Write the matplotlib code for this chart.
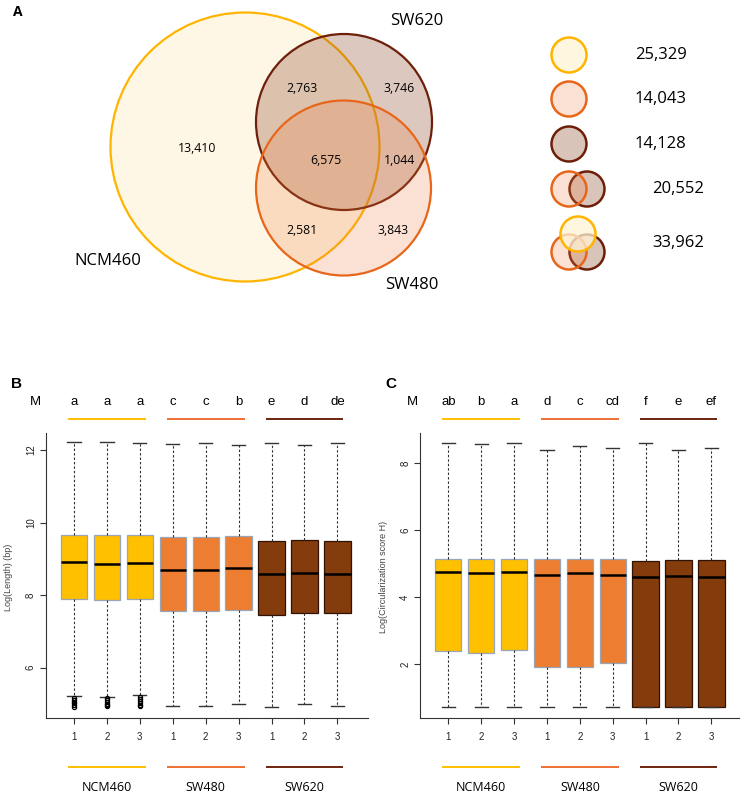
import numpy as np
import matplotlib.pyplot as plt
from matplotlib.patches import Circle
from matplotlib import transforms

plt.rcParams['font.family'] = ['Liberation Sans', 'DejaVu Sans']
label_font = ['Open Sans', 'DejaVu Sans']

# ---- data ----
groups = ['NCM460', 'SW480', 'SW620']
reps = ['1', '2', '3'] * 3
group_colors = ['#FFC000', '#ED7D31', '#843C0C']
line_colors = ['#FFC000', '#EE7033', '#6E2410']
box_edges = ['#9AA5B8', '#9AA5B8', '#2F1204']

venn_sets = ['NCM460', 'SW620', 'SW480']
venn_counts = ['13,410', '2,763', '3,746', '6,575', '1,044', '2,581', '3,843']
venn_totals = ['25,329', '14,043', '14,128', '20,552', '33,962']

# Log(Length) (bp)
len_whislo = [5.21, 5.20, 5.25, 4.95, 4.94, 4.99, 4.92, 5.00, 4.95]
len_q1 = [7.88, 7.87, 7.88, 7.55, 7.55, 7.58, 7.45, 7.51, 7.52]
len_med = [8.90, 8.87, 8.89, 8.70, 8.70, 8.75, 8.57, 8.61, 8.59]
len_q3 = [9.67, 9.65, 9.65, 9.61, 9.61, 9.62, 9.50, 9.51, 9.49]
len_whishi = [12.21, 12.21, 12.20, 12.17, 12.19, 12.14, 12.19, 12.15, 12.19]
len_fliers = [[5.16, 5.11, 5.06, 5.01, 4.96, 4.92], [5.15, 5.10, 5.05, 5.00, 4.96, 4.93],
              [5.20, 5.14, 5.08, 5.02, 4.97, 4.93], [], [], [], [], [], []]
len_letters = ['a', 'a', 'a', 'c', 'c', 'b', 'e', 'd', 'de']

# Log(Circularization score H)
circ_whislo = [0.71, 0.71, 0.71, 0.71, 0.71, 0.71, 0.71, 0.71, 0.71]
circ_q1 = [2.39, 2.33, 2.43, 1.90, 1.91, 2.03, 0.71, 0.71, 0.71]
circ_med = [4.74, 4.72, 4.76, 4.67, 4.72, 4.67, 4.61, 4.63, 4.61]
circ_q3 = [5.15, 5.13, 5.15, 5.13, 5.15, 5.15, 5.09, 5.12, 5.12]
circ_whishi = [8.62, 8.58, 8.60, 8.40, 8.52, 8.45, 8.62, 8.40, 8.45]
circ_letters = ['ab', 'b', 'a', 'd', 'c', 'cd', 'f', 'e', 'ef']

fig = plt.figure(figsize=(7.43, 7.94), dpi=100)

# overlay in pixel units for panel A and annotations
ov = fig.add_axes([0, 0, 1, 1])
ov.set_xlim(0, 743)
ov.set_ylim(794, 0)
ov.axis('off')

# ---- panel A: venn ----
fills = {'NCM460': ('#FFF7E6', 1.0), 'SW620': ('#8B4A2B', 0.30), 'SW480': ('#F07A3A', 0.22)}
edges = {'NCM460': '#FFB400', 'SW620': '#6E1F0A', 'SW480': '#E8661A'}
venn_xy = {'NCM460': (245, 147, 134.5), 'SW620': (344, 122, 88), 'SW480': (343.5, 188, 87.5)}
for s in venn_sets:
    x, y, r = venn_xy[s]
    fc, a = fills[s]
    ov.add_patch(Circle((x, y), r, facecolor=fc, alpha=a, edgecolor='none'))
    ov.add_patch(Circle((x, y), r, facecolor='none', edgecolor=edges[s], lw=1.6))

count_xy = [(197, 148), (302, 89), (399, 89), (326, 160), (399, 160), (302, 231), (393, 231)]
for (x, y), t in zip(count_xy, venn_counts):
    ov.text(x, y, t, ha='center', va='center', fontsize=8.8, family=label_font)

name_xy = {'NCM460': (108, 261), 'SW620': (417, 21), 'SW480': (412, 285)}
for s in venn_sets:
    ov.text(*name_xy[s], s, ha='center', va='center', fontsize=12, family=label_font)

# legend of totals
leg_rows = [[('NCM460', 569, 55)], [('SW480', 569, 99)], [('SW620', 569, 144)],
            [('SW620', 587, 189), ('SW480', 569, 189)],
            [('SW620', 587, 252), ('SW480', 569, 252), ('NCM460', 578, 234)]]
leg_fill = {'NCM460': ('#FFF3D6', 0.75), 'SW620': ('#8B4A2B', 0.32), 'SW480': ('#F07A3A', 0.22)}
for row in leg_rows:
    for s, x, y in row:
        fc, a = leg_fill[s]
        ov.add_patch(Circle((x, y), 17.5, facecolor=fc, alpha=a, edgecolor='none'))
        ov.add_patch(Circle((x, y), 17.5, facecolor='none', edgecolor=edges[s], lw=1.8))
tot_xy = [(635, 55), (635, 99), (635, 144), (652, 189), (652, 243)]
for (x, y), t in zip(tot_xy, venn_totals):
    ov.text(x, y, t, ha='left', va='center', fontsize=12, family=label_font)

ov.text(13, 12, 'A', ha='left', va='center', fontsize=10, fontweight='bold', family=label_font)


# ---- panels B, C ----
def boxpanel(rect, q1, med, q3, lo, hi, fliers, ylim, xlim, yticks, ylabel, letters, tag, mx):
    ax = fig.add_axes(rect)
    stats = []
    for i in range(9):
        stats.append(dict(q1=q1[i], med=med[i], q3=q3[i], whislo=lo[i], whishi=hi[i],
                          fliers=fliers[i]))
    res = ax.bxp(stats, positions=range(1, 10), widths=0.8, capwidths=0.4,
                 patch_artist=True, showfliers=True,
                 whiskerprops=dict(linestyle=(0, (2.2, 1.8)), color='#333333', lw=0.8),
                 capprops=dict(color='#333333', lw=1.0),
                 medianprops=dict(color='black', lw=1.8),
                 flierprops=dict(marker='o', markersize=3, mfc='none', mec='black', mew=0.9))
    for i, p in enumerate(res['boxes']):
        p.set_facecolor(group_colors[i // 3])
        p.set_edgecolor(box_edges[i // 3])
        p.set_linewidth(0.9)
    ax.set_xlim(*xlim)
    ax.set_ylim(*ylim)
    ax.set_yticks(yticks)
    ax.set_xticks(range(1, 10))
    ax.set_xticklabels(reps)
    ax.tick_params(axis='both', direction='out', length=4, width=0.8, color='#333333',
                   labelsize=7, labelcolor='#222222')
    ax.tick_params(axis='x', pad=6)
    ax.tick_params(axis='y', labelrotation=90, pad=3)
    for lab in ax.get_yticklabels():
        lab.set_va('center')
    for sp in ['top', 'right']:
        ax.spines[sp].set_visible(False)
    for sp in ['left', 'bottom']:
        ax.spines[sp].set_linewidth(0.8)
        ax.spines[sp].set_color('#333333')
    ax.set_facecolor('none')

    tr = transforms.blended_transform_factory(ax.transData, ov.transData)
    ov.text(mx, 405, 'M', transform=tr, ha='center', va='baseline', fontsize=9.5)
    for i, t in enumerate(letters):
        ov.text(i + 1, 405, t, transform=tr, ha='center', va='baseline', fontsize=9.5)
    for g in range(3):
        c = 3 * g + 2
        ov.plot([c - 1.18, c + 1.18], [419, 419], transform=tr, color=line_colors[g],
                lw=1.4, solid_capstyle='butt')
        ov.plot([c - 1.18, c + 1.18], [767, 767], transform=tr, color=line_colors[g],
                lw=1.4, solid_capstyle='butt')
        ov.text(c, 791, groups[g], transform=tr, ha='center', va='baseline', fontsize=9,
                family=label_font)
    x0 = rect[0] * 743
    fig.text((x0 - 37) / 743, (794 - 577) / 794, ylabel, rotation=90, ha='center',
             va='center', fontsize=6.5, color='#444444')
    fig.text((x0 - 29) / 743, (794 - 384) / 794, tag, ha='center', va='center',
             fontsize=11, fontweight='bold')
    return ax


boxpanel([45.7 / 743, 76 / 794, 322.3 / 743, 285.3 / 794], len_q1, len_med, len_q3,
         len_whislo, len_whishi, len_fliers, (4.61, 12.48), (0.14, 9.93), [6, 8, 10, 12],
         'Log(Length) (bp)', len_letters, 'B', -0.16)
boxpanel([420 / 743, 76 / 794, 319.3 / 743, 285.3 / 794], circ_q1, circ_med, circ_q3,
         circ_whislo, circ_whishi, [[]] * 9, (0.38, 8.92), (0.14, 9.85), [2, 4, 6, 8],
         'Log(Circularization score H)', circ_letters, 'C', -0.10)

fig.savefig('out.png', dpi=100)
